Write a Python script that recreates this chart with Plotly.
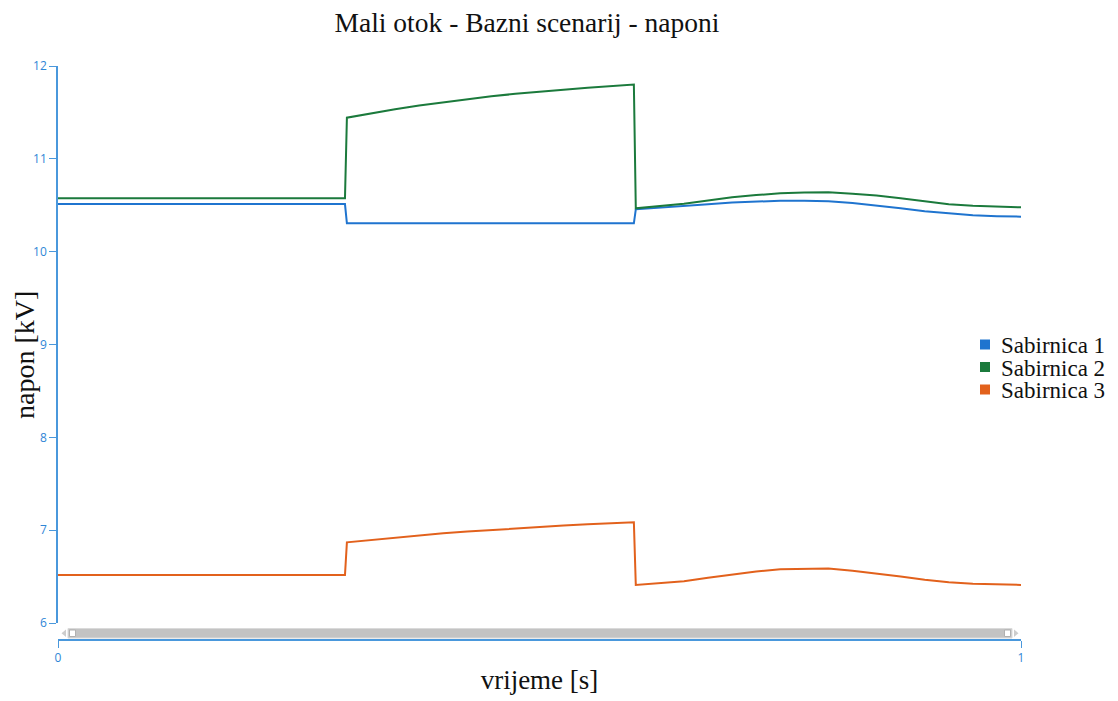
import plotly.graph_objects as go

# time [s]
t = [0.0, 0.10, 0.20, 0.298, 0.300, 0.325, 0.35, 0.375, 0.40, 0.425, 0.45, 0.475, 0.50, 0.525, 0.55, 0.575, 0.598,
     0.600, 0.625, 0.65, 0.675, 0.70, 0.725, 0.75, 0.775, 0.80, 0.825, 0.85, 0.875, 0.90, 0.925, 0.95, 0.975, 1.0]

sab1 = [10.513, 10.513, 10.513, 10.513, 10.305, 10.305, 10.305, 10.305, 10.305, 10.305, 10.305, 10.305, 10.305,
        10.305, 10.305, 10.305, 10.305,
        10.456, 10.472, 10.490, 10.510, 10.530, 10.542, 10.548, 10.548, 10.543, 10.525, 10.500, 10.468, 10.435,
        10.410, 10.392, 10.382, 10.377]
sab2 = [10.575, 10.575, 10.575, 10.575, 11.443, 11.49, 11.535, 11.575, 11.61, 11.645, 11.675, 11.70, 11.725,
        11.745, 11.765, 11.785, 11.80,
        10.467, 10.490, 10.515, 10.550, 10.585, 10.610, 10.628, 10.637, 10.639, 10.625, 10.605, 10.575, 10.540,
        10.512, 10.495, 10.484, 10.478]
sab3 = [6.517, 6.517, 6.517, 6.517, 6.869, 6.895, 6.92, 6.945, 6.967, 6.985, 7.003, 7.02, 7.037, 7.05, 7.063,
        7.075, 7.085,
        6.410, 6.430, 6.450, 6.488, 6.525, 6.555, 6.578, 6.586, 6.586, 6.562, 6.535, 6.500, 6.466, 6.440, 6.423,
        6.414, 6.410]

names = ["Sabirnica 1", "Sabirnica 2", "Sabirnica 3"]
colors = ["#1f74cf", "#1b7a3c", "#e2611c"]
series = [sab1, sab2, sab3]

tick_col = "#2f86d6"
axis_col = "#4a98dc"
serif = "Liberation Serif"

fig = go.Figure()
for nm, col, ys in zip(names, colors, series):
    fig.add_trace(go.Scatter(x=t, y=ys, mode="lines", name=nm, showlegend=False,
                             line=dict(color=col, width=2)))

# page body has an 8px margin, so the figure is 8px smaller and everything is placed 8px up/left
OFF = 8
W, H = 1118 - OFF, 701 - OFF
X0, X1 = 58, 1021        # plot left/right in page pixels
YT, YB = 66, 640         # plot top / x-axis line in page pixels
ml, mr, mt, mb = X0 - OFF, W - (X1 - OFF), YT - OFF, H - (YB - OFF)
ph = YB - YT
ydom0 = (YB - 623) / ph

def py(pix):
    return (YB - pix) / ph

def px(pix):
    return (pix - X0) / (X1 - X0)

shapes = [
    # scrollbar track
    dict(type="rect", xref="paper", yref="paper", x0=px(68), x1=px(1012), y0=py(638), y1=py(628.5),
         fillcolor="#c3c3c3", line=dict(color="#dadada", width=1), layer="above"),
    dict(type="rect", xref="paper", yref="paper", x0=px(69.5), x1=px(75.5), y0=py(636.5), y1=py(630),
         fillcolor="#ffffff", line=dict(color="#b0b0b0", width=1), layer="above"),
    dict(type="rect", xref="paper", yref="paper", x0=px(1004.5), x1=px(1010.5), y0=py(636.5), y1=py(630),
         fillcolor="#ffffff", line=dict(color="#b0b0b0", width=1), layer="above"),
    dict(type="path", xref="paper", yref="paper",
         path=f"M {px(66)} {py(629.5)} L {px(66)} {py(637)} L {px(61.5)} {py(633.2)} Z",
         fillcolor="#cdcdcd", line=dict(width=0)),
    dict(type="path", xref="paper", yref="paper",
         path=f"M {px(1014)} {py(629.5)} L {px(1014)} {py(637)} L {px(1018.5)} {py(633.2)} Z",
         fillcolor="#cdcdcd", line=dict(width=0)),
]

# legend (squares + labels)
leg_y = [344.5, 367, 389.5]
annotations = []
for nm, col, yy in zip(names, colors, leg_y):
    shapes.append(dict(type="rect", xref="paper", yref="paper", x0=px(980), x1=px(990),
                       y0=py(yy + 5), y1=py(yy - 5), fillcolor=col, line=dict(width=0)))
    annotations.append(dict(text=nm, xref="paper", yref="paper", x=px(999), y=py(yy + 1),
                            xanchor="left", yanchor="middle", showarrow=False,
                            font=dict(family=serif, size=23, color="#111111")))

# y-axis title (centred slightly below the axis middle, as in the reference)
annotations.append(dict(text="napon [kV]", xref="paper", yref="paper", x=px(24), y=py(355),
                        xanchor="center", yanchor="middle", textangle=-90, showarrow=False,
                        font=dict(family=serif, size=28, color="#111111")))

fig.update_layout(
    width=W, height=H,
    margin=dict(l=ml, r=mr, t=mt, b=mb, autoexpand=False),
    paper_bgcolor="white", plot_bgcolor="white",
    showlegend=False,
    title=dict(text="Mali otok - Bazni scenarij - naponi", x=(527 - OFF) / W, xanchor="center",
               y=1 - (22 - OFF) / H, yanchor="middle", yref="container",
               font=dict(family=serif, size=27.5, color="#111111")),
    xaxis=dict(range=[0, 1], tickvals=[0, 1], ticktext=["0", "1"], showgrid=False, zeroline=False,
               showline=True, linecolor=axis_col, linewidth=1.5, ticks="outside", ticklen=7,
               tickcolor=axis_col, tickfont=dict(family="Open Sans", size=12, color=tick_col),
               anchor="free", position=0, automargin=False,
               title=dict(text="vrijeme [s]", font=dict(family=serif, size=27, color="#111111"),
                          standoff=4)),
    yaxis=dict(range=[6, 12], domain=[ydom0, 1], dtick=1, showgrid=False, zeroline=False,
               showline=True, linecolor=axis_col, linewidth=1.5, ticks="outside", ticklen=7,
               tickcolor=axis_col, tickfont=dict(family="Open Sans", size=12, color=tick_col),
               automargin=False),
    shapes=shapes,
    annotations=annotations,
)

fig.write_html("out.html")
